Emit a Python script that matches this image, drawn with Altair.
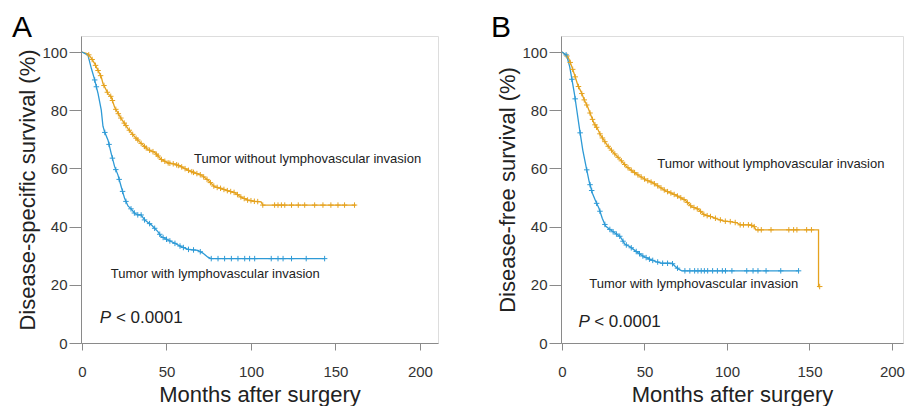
import altair as alt
import pandas as pd
import numpy as np

ORANGE = "#E5A21E"
BLUE = "#2E9AD6"
FONT = "Liberation Sans"
GROUPS = ["Tumor without lymphovascular invasion", "Tumor with lymphovascular invasion"]

# ---------------- Panel A: disease-specific survival ----------------
a_without_m = [0, 3.5, 5.5, 7.5, 11.4, 12.4, 15.4, 17.3, 19.3, 23.2, 27.2, 31.1, 35, 39, 43, 46.9, 50.8,
               54.8, 58.7, 62.7, 66.6, 70.6, 74.5, 78.4, 82.4, 86.3, 90.3, 94.2, 98.1, 102, 106, 107, 162]
a_without_s = [100, 99.4, 97.9, 96, 91.4, 89.2, 85.7, 84.6, 81, 77.1, 73.7, 70.9, 68.6, 66.5, 65.5, 63.1, 61.9,
               61.5, 60.6, 59.4, 58.5, 57.7, 56, 53.7, 53.1, 52.3, 51.7, 50.1, 49.1, 48.7, 48.5, 47.4, 47.4]
a_with_m = [0, 3.5, 5.5, 7.5, 9.5, 11.4, 12.4, 13.4, 15.4, 17.3, 19.3, 21.3, 23.2, 25.2, 27.2, 29.2, 31.1,
            33.1, 35, 37, 41, 44.9, 46.9, 50.8, 54.8, 58.7, 62.7, 68.6, 71.5, 74.5, 76.5, 143.5]
a_with_s = [100, 98.9, 94.4, 90.4, 85.7, 80, 74.5, 72.5, 69.7, 65.1, 60.6, 57.7, 53.7, 49.7, 47.1, 46, 44.6,
            44, 44, 42.3, 40.6, 38.3, 36.6, 35.4, 34.3, 33.1, 32.2, 31.8, 30.9, 29.5, 29, 29]
a_without_cens = [4, 6, 8, 9.5, 11, 13, 15, 17, 18, 20, 21.5, 23, 25, 26, 28, 30, 32, 33, 35, 37, 38, 40, 42,
                  44, 45, 47, 49, 51, 52, 54, 56, 57, 59, 61, 63, 65, 66, 68, 70, 72, 74, 76, 78, 80, 82, 84,
                  86, 88, 90, 92, 94, 96, 98, 100, 102, 104, 107, 114, 116, 118, 120, 124, 128, 131.8,
                  137.7, 142.6, 147.3, 151.5, 155.4, 161.3]
a_with_cens = [7.5, 8.5, 13.5, 16, 18, 20, 22, 24, 26, 29, 31, 33, 35, 37, 40, 43, 46, 48, 50, 52, 55, 58, 60,
               63, 66, 70, 76.5, 80.5, 84.4, 88.4, 92.3, 96.3, 99.2, 102.2, 112, 116, 119, 124, 132.7, 143.6]
a_text_m = [66.3, 17.0]
a_text_s = [62.0, 22.5]

# ---------------- Panel B: disease-free survival ----------------
b_without_m = [0, 3.7, 5.7, 7.7, 9.6, 11.6, 13.6, 15.6, 17.5, 19.5, 21.5, 23.4, 25.4, 27.4, 31.3, 35.2, 39.2,
               43.1, 47, 51, 54.9, 58.9, 62.8, 66.7, 70.7, 74.6, 78.5, 82.5, 86.4, 90.4, 94.3, 98.2, 102, 106,
               108, 114, 116.3, 117.5, 155.5, 155.5, 156.2]
b_without_s = [100, 98.3, 95.4, 92, 88.6, 86.3, 83.4, 81.1, 78.3, 75.4, 73.7, 71.4, 69.7, 68, 65.4, 63.1, 60.6,
               58.9, 57.4, 56, 55.1, 53.7, 52.3, 51.4, 50.3, 49.1, 46.9, 46, 44, 43.4, 42.6, 41.9, 41.7, 41.3,
               40.6, 40.6, 40.2, 38.9, 38.9, 19.4, 19.4]
b_with_m = [0, 2.8, 4.7, 6.1, 7.7, 8.7, 10.6, 12.6, 14.6, 16.5, 18.5, 20.5, 22.4, 24.4, 26.4, 29.3, 32.3, 35.2,
            38.2, 41.1, 45.1, 49, 53, 56.9, 60.8, 66.7, 68.7, 70.7, 72.6, 143.5]
b_with_s = [100, 98.9, 94.9, 90.3, 85.1, 81.1, 73.7, 66.3, 60.6, 55.4, 51.4, 48.6, 46.3, 42.9, 40.2, 38.9, 37.7,
            36.6, 33.9, 33.1, 31.4, 29.9, 28.8, 28, 27.4, 27.4, 26.3, 25.4, 24.8, 24.8]
b_without_cens = [3, 5, 6.5, 8, 10, 12, 13.5, 15, 17, 18.5, 20, 21, 23, 24.5, 26, 28, 30, 32, 34, 36, 38, 40,
                  42, 44, 46, 48, 50, 52, 54, 56, 58, 60, 62, 64, 66, 68, 70, 72, 74, 76, 78, 80, 82, 84, 86,
                  88, 90, 93, 96, 99, 102, 105, 108, 110, 113, 115, 116.5, 118.8, 120.8, 126.7, 137.5, 140.4,
                  142.4, 148.3, 151.2, 156.2]
b_with_cens = [2.5, 6, 8, 11, 15, 17, 18, 21, 23, 26, 29, 31, 33, 35, 37, 39, 42, 45, 47, 49, 51, 53, 55, 58,
               61, 64, 67, 70, 74.5, 77.5, 80.4, 82.4, 84.4, 86.3, 88.3, 91.3, 94.2, 97.2, 99.1, 103, 112,
               115.8, 118.8, 123.7, 132.6, 143.4]
b_text_m = [57.8, 16.5]
b_text_s = [60.1, 18.9]

X_TICKS = [0, 50, 100, 150, 200]
Y_TICKS = [0, 20, 40, 60, 80, 100]


def curve_df(m, s, g):
    return pd.DataFrame({"month": m, "surv": s, "group": g, "idx": list(range(len(m)))})


def censor_df(cm, m, s, g):
    return pd.DataFrame({"month": cm, "surv": np.interp(cm, m, s), "group": g})


def panel(letter, ytitle, curves, censors, text_m, text_s, p_m, p_s, lt_m, xmax, width, dx):
    xs = alt.Scale(domain=[-0.6, xmax], nice=False, zero=False)
    ys = alt.Scale(domain=[0, 105.5], nice=False, zero=False)
    cs = alt.Scale(domain=GROUPS, range=[ORANGE, BLUE])
    xax = alt.Axis(values=X_TICKS, title="Months after surgery", grid=False, tickSize=7, labelPadding=14,
                   labelFontSize=15, titleFontSize=22, titleFontWeight="normal", titlePadding=5,
                   domainColor="#8a8a8a", tickColor="#8a8a8a", labelColor="#333333", titleColor="#222222",
                   labelFont=FONT, titleFont=FONT, labelFlush=False)
    yax = alt.Axis(values=Y_TICKS, title=ytitle, grid=False, tickSize=12, labelPadding=2,
                   labelFontSize=15, titleFontSize=22, titleFontWeight="normal", titlePadding=2,
                   domainColor="#8a8a8a", tickColor="#8a8a8a", labelColor="#333333", titleColor="#222222",
                   labelFont=FONT, titleFont=FONT, labelFlush=False)
    x = alt.X("month:Q", scale=xs, axis=xax)
    y = alt.Y("surv:Q", scale=ys, axis=yax)
    lines = alt.Chart(curves).mark_line(strokeWidth=1.3).encode(
        x=x, y=y, color=alt.Color("group:N", scale=cs, legend=None), order="idx:Q", detail="group:N")
    marks = alt.Chart(censors).mark_point(shape="M0,-1V1M-1,0H1", size=30, filled=False,
                                          strokeWidth=1, opacity=1).encode(
        x="month:Q", y="surv:Q", color=alt.Color("group:N", scale=cs, legend=None))
    tdf = pd.DataFrame({"month": text_m, "surv": text_s, "label": GROUPS})
    texts = alt.Chart(tdf).mark_text(align="left", baseline="alphabetic", font=FONT, fontSize=13,
                                     color="#222222").encode(x="month:Q", y="surv:Q", text="label:N")
    pdf = pd.DataFrame({"month": [p_m], "surv": [p_s], "label": ["P"]})
    ptxt = alt.Chart(pdf).mark_text(align="left", baseline="alphabetic", font=FONT, fontSize=17,
                                    fontStyle="italic", color="#222222").encode(
        x="month:Q", y="surv:Q", text="label:N")
    ldf = pd.DataFrame({"month": [lt_m], "surv": [p_s], "label": ["< 0.0001"]})
    ltxt = alt.Chart(ldf).mark_text(align="left", baseline="alphabetic", font=FONT, fontSize=17,
                                    color="#222222").encode(x="month:Q", y="surv:Q", text="label:N")
    return alt.layer(lines, marks, texts, ptxt, ltxt).properties(
        width=width, height=307,
        title=alt.TitleParams(letter, anchor="start", frame="group", dx=dx, fontSize=30,
                              fontWeight="normal", font=FONT, baseline="alphabetic", offset=-30.5,
                              color="#000000"))


curves_a = pd.concat([curve_df(a_without_m, a_without_s, GROUPS[0]), curve_df(a_with_m, a_with_s, GROUPS[1])])
cens_a = pd.concat([censor_df(a_without_cens, a_without_m, a_without_s, GROUPS[0]),
                    censor_df(a_with_cens, a_with_m, a_with_s, GROUPS[1])])
curves_b = pd.concat([curve_df(b_without_m, b_without_s, GROUPS[0]), curve_df(b_with_m, b_with_s, GROUPS[1])])
cens_b = pd.concat([censor_df(b_without_cens, b_without_m, b_without_s, GROUPS[0]),
                    censor_df(b_with_cens, b_with_m, b_with_s, GROUPS[1])])

pa = panel("A", "Disease-specific survival (%)", curves_a, cens_a, a_text_m, a_text_s, 10.5, 6.8, 20.1,
           210.7, 357, -69)
pb = panel("B", "Disease-free survival (%)", curves_b, cens_b, b_text_m, b_text_s, 10.0, 5.6, 19.5,
           206.7, 342, -70)

chart = alt.hconcat(pa, pb, spacing=51).properties(
    padding={"left": 3, "top": 4, "right": 0, "bottom": 0}
).configure_view(stroke="#8a8a8a", strokeWidth=1).configure(background="white")

chart.save("out.html", embed_options={"renderer": "svg", "actions": False})
